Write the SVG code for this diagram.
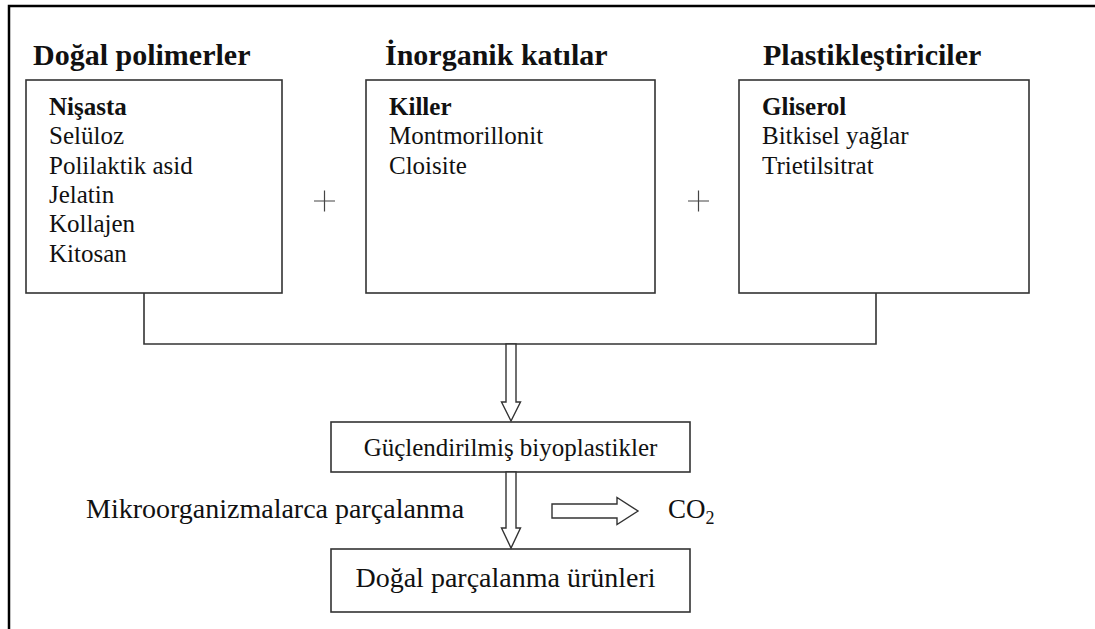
<svg xmlns="http://www.w3.org/2000/svg" width="1095" height="629" viewBox="0 0 1095 629">
<style>
text{font-family:"Liberation Serif",Tinos,"DejaVu Serif Condensed","DejaVu Serif",serif;fill:#111}
.title{font-size:30px;font-weight:bold}
.item{font-size:25px}
.b{font-weight:bold}
.box{fill:#fff;stroke:#333;stroke-width:1.6}
.line{fill:none;stroke:#333;stroke-width:1.6}
.harrow{fill:#fff;stroke:#333;stroke-width:1.4;stroke-linejoin:miter}
.plus{stroke:#444;stroke-width:1.2}
</style>
<rect width="1095" height="629" fill="#fff"/>
<path d="M9 629V6H1095" fill="none" stroke="#000" stroke-width="2.5"/>

<g id="node-dogal">
<text class="title" x="33" y="65">Doğal polimerler</text>
<rect class="box" x="26" y="80" width="256" height="213"/>
<text class="item b" x="49" y="115">Nişasta</text>
<text class="item" x="49" y="144">Selüloz</text>
<text class="item" x="49" y="174">Polilaktik asid</text>
<text class="item" x="49" y="203">Jelatin</text>
<text class="item" x="49" y="232">Kollajen</text>
<text class="item" x="49" y="262">Kitosan</text>
</g>

<g id="plus1"><path class="plus" d="M314 201H335M324.5 190.5V211.5"/></g>

<g id="node-inorganik">
<text class="title" x="385" y="65">İnorganik katılar</text>
<rect class="box" x="366" y="80" width="289" height="213"/>
<text class="item b" x="389" y="115">Killer</text>
<text class="item" x="389" y="144">Montmorillonit</text>
<text class="item" x="389" y="174">Cloisite</text>
</g>

<g id="plus2"><path class="plus" d="M688 201H709M698.5 190.5V211.5"/></g>

<g id="node-plastik">
<text class="title" x="763" y="65">Plastikleştiriciler</text>
<rect class="box" x="739" y="80" width="290" height="213"/>
<text class="item b" x="762" y="115">Gliserol</text>
<text class="item" x="762" y="144">Bitkisel yağlar</text>
<text class="item" x="762" y="174">Trietilsitrat</text>
</g>

<g id="node-biyoplastik">
<rect class="box" x="331" y="422" width="359" height="50"/>
<text x="510.5" y="456" font-size="25" text-anchor="middle">Güçlendirilmiş biyoplastikler</text>
</g>

<g id="node-urunler">
<rect class="box" x="331" y="549" width="359" height="63"/>
<text x="505.5" y="587" font-size="28" text-anchor="middle">Doğal parçalanma ürünleri</text>
</g>

<g id="label-mikro">
<text x="86" y="518" font-size="28">Mikroorganizmalarca parçalanma</text>
</g>

<g id="node-co2">
<text x="668" y="518" font-size="27">CO<tspan font-size="18" dy="6">2</tspan></text>
</g>

<g id="connectors">
<path class="line" d="M144 293V344H876V293"/>
<path class="harrow" d="M506 344V402H501.5L511 421L520.5 402H516V344Z"/>
<path class="harrow" d="M506 472V528H501.5L511 548L520.5 528H516V472Z"/>
<path class="harrow" d="M552 504H617V497.5L638 511L617 524.5V518H552Z"/>
</g>
</svg>
